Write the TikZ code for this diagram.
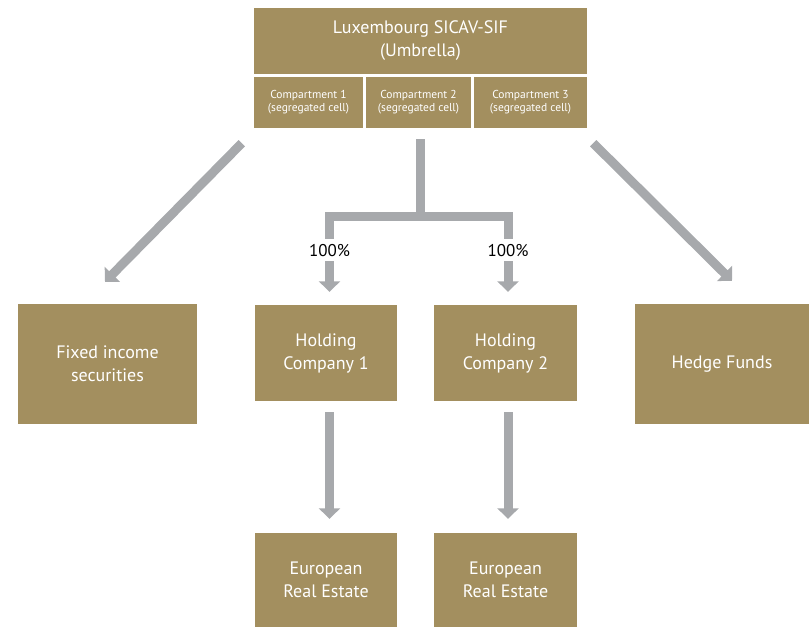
\documentclass[tikz,border=0pt]{standalone}
\usepackage{fontspec}
\setmainfont{PT Sans}
\usetikzlibrary{arrows.meta,positioning}
\definecolor{pGold}{HTML}{A38F5F}
\definecolor{pGray}{HTML}{A7A9AC}
\tikzset{
    goldbox/.style={rectangle, fill=pGold, text=white, align=center, inner sep=0pt,
        font=\fontsize{18}{23}\selectfont},
    cellbox/.style={goldbox, minimum height=51pt, font=\fontsize{11.5}{13}\selectfont},
    bar/.style={draw=pGray, line width=9pt},
    arr/.style={bar, -{Triangle[width=21pt,length=10.5pt]}},
    pct/.style={inner xsep=0pt, inner ysep=5pt, text height=12pt, text depth=0pt,
        font=\fontsize{17}{17}\selectfont}
}
\begin{document}
\begin{tikzpicture}[x=1pt,y=-1pt]
\useasboundingbox (0,0) rectangle (809,627);
% umbrella and its compartments
\node[goldbox,minimum width=333pt,minimum height=66pt] (sicav) at (420.5,41) {Luxembourg SICAV-SIF\\(Umbrella)};
\node[cellbox,minimum width=109pt] (comp1) at (308.5,102.5) {Compartment 1\\(segregated cell)};
\node[cellbox,minimum width=105pt] (comp2) at (418.5,102.5) {Compartment 2\\(segregated cell)};
\node[cellbox,minimum width=113pt] (comp3) at (530.5,102.5) {Compartment 3\\(segregated cell)};
% investments
\node[goldbox,minimum width=179pt,minimum height=120pt] (fixed) at (107.5,364) {Fixed income\\securities};
\node[goldbox,minimum width=142pt,minimum height=96pt] (hold1) at (326,353) {Holding\\Company 1};
\node[goldbox,minimum width=143pt,minimum height=96pt] (hold2) at (505.5,353) {Holding\\Company 2};
\node[goldbox,minimum width=174pt,minimum height=120pt] (hedge) at (722,364) {Hedge Funds};
\node[goldbox,minimum width=142pt,minimum height=94pt] (euro1) at (326,580) {European\\Real Estate};
\node[goldbox,minimum width=143pt,minimum height=94pt] (euro2) at (505.5,580) {European\\Real Estate};
% ownership labels
\coordinate (fork) at (420.5,216);
\node[pct] (lab1) at (329.5,250) {100\%};
\node[pct] (lab2) at (508,250) {100\%};
% connectors
\draw[bar,shorten <=11pt] (fork |- comp2.south) -- (fork);
\draw[bar] (lab1) |- (fork) -| (lab2);
\draw[arr,shorten >=13pt] (lab1) -- (lab1 |- hold1.north);
\draw[arr,shorten >=13pt] (lab2) -- (lab2 |- hold2.north);
\draw[arr,shorten <=11pt,shorten >=14pt] (hold1.south -| lab1) -- (euro1.north -| lab1);
\draw[arr,shorten <=11pt,shorten >=14pt] (hold2.south -| lab2) -- (euro2.north -| lab2);
\draw[arr] ([shift={(-12,15)}]comp1.south west) -- ([shift={(-2.5,-22)}]fixed.north);
\draw[arr] ([shift={(6,15)}]comp3.south east) -- ([shift={(10,-23)}]hedge.north);
\end{tikzpicture}
\end{document}
